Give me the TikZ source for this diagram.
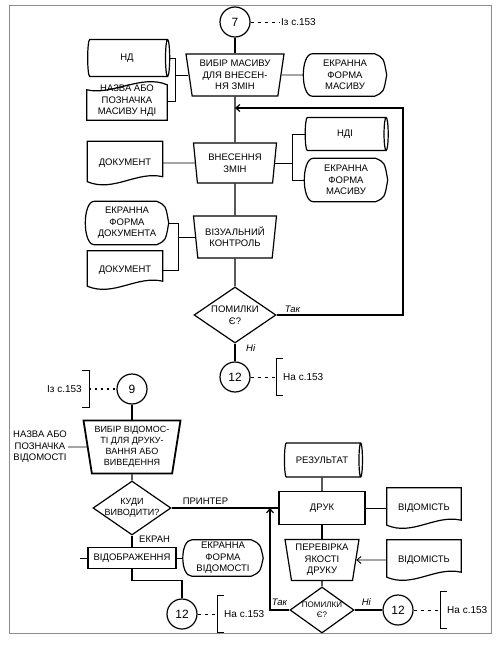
\documentclass[tikz,border=0pt]{standalone}
\usepackage{fontspec}
\setmainfont{Liberation Sans}
\usetikzlibrary{shapes.geometric,arrows.meta}

\tikzset{
  every node/.style={font=\fontsize{9.5}{11.5}\selectfont, align=center, inner sep=1pt},
  shapeline/.style={line width=1.2pt},
  flow/.style={line width=1.2pt},
  sideline/.style={line width=0.9pt},
  refline/.style={line width=0.8pt, dash pattern=on 3pt off 4pt},
  dotline/.style={line width=2pt, dash pattern=on 2pt off 4pt},
  outerframe/.style={draw=black!45, line width=0.8pt},
  conn/.style={circle, draw, shapeline, minimum size=30pt, inner sep=0pt, font=\fontsize{12}{14}\selectfont},
  manop/.style={trapezium, draw, shapeline, shape border rotate=180,
    trapezium left angle=79, trapezium right angle=79, trapezium stretches body,
    minimum width=83pt, minimum height=40pt},
  proc/.style={rectangle, draw, shapeline},
  decide/.style={diamond, draw, shapeline, aspect=1.45, inner xsep=-3pt, inner ysep=-2pt},
  store/.style={cylinder, draw, shapeline, shape aspect=0.4},
  docu/.style={append after command={\pgfextra{\draw[shapeline]
    (\tikzlastnode.north west) -- (\tikzlastnode.north east) -- ([yshift=8pt]\tikzlastnode.south east)
    .. controls ([xshift=-26pt,yshift=14pt]\tikzlastnode.south east) and ([xshift=26pt,yshift=-8pt]\tikzlastnode.south west)
    .. ([yshift=3pt]\tikzlastnode.south west) -- cycle;}}},
  docup/.style={append after command={\pgfextra{\draw[shapeline]
    (\tikzlastnode.south east) -- (\tikzlastnode.south west) -- ([yshift=-8pt]\tikzlastnode.north west)
    .. controls ([xshift=26pt,yshift=-14pt]\tikzlastnode.north west) and ([xshift=-26pt,yshift=8pt]\tikzlastnode.north east)
    .. ([yshift=-3pt]\tikzlastnode.north east) -- cycle;}}},
  scrn/.style={append after command={\pgfextra{\draw[shapeline]
    ([xshift=9pt]\tikzlastnode.north west) -- ([xshift=-12pt]\tikzlastnode.north east)
    .. controls ([xshift=-3pt,yshift=-4pt]\tikzlastnode.north east) .. (\tikzlastnode.east)
    .. controls ([xshift=-3pt,yshift=4pt]\tikzlastnode.south east) .. ([xshift=-12pt]\tikzlastnode.south east)
    -- ([xshift=9pt]\tikzlastnode.south west)
    .. controls ([xshift=-3pt]\tikzlastnode.south west) and ([xshift=-3pt]\tikzlastnode.north west)
    .. ([xshift=9pt]\tikzlastnode.north west) -- cycle;}}},
  pageref/.style={font=\fontsize{10}{12}\selectfont},
  toref/.style={pageref, anchor=west, minimum height=36pt, inner xsep=7pt,
    append after command={\pgfextra{\draw[sideline]
    ([xshift=7pt]\tikzlastnode.north west) -| (\tikzlastnode.south west) -- ++(7pt,0pt);}}},
  fromref/.style={pageref, anchor=east, minimum height=36pt, inner xsep=7pt,
    append after command={\pgfextra{\draw[sideline]
    ([xshift=-7pt]\tikzlastnode.north east) -| (\tikzlastnode.south east) -- ++(-7pt,0pt);}}},
  yesno/.style={font=\fontsize{9.5}{11.5}\itshape}
}

\begin{document}
\begin{tikzpicture}[x=1pt, y=-1pt, >={Straight Barb[length=4pt,width=7pt]}]
\useasboundingbox (0,0) rectangle (501,647);
\draw[outerframe] (9,5) rectangle (491,633);

\node[conn] (c7) at (235,22) {7};
\node[pageref, anchor=west] (from7) at (280,22) {Із с.153};
\node[manop, minimum width=98pt, minimum height=42pt] (pick) at (235,75) {ВИБІР МАСИВУ\\ДЛЯ ВНЕСЕН-\\НЯ ЗМІН};
\node[store, minimum width=37pt, minimum height=82pt] (nd) at (127,58) {НД};
\node[docup, minimum width=80pt, minimum height=38pt] (ndname) at (127,101) {НАЗВА АБО\\ПОЗНАЧКА\\МАСИВУ НДІ};
\node[scrn, minimum width=83pt, minimum height=42pt] (scr1) at (345,75) {ЕКРАННА\\ФОРМА\\МАСИВУ};

\node[manop] (edit) at (235,163) {ВНЕСЕННЯ\\ЗМІН};
\node[docu, minimum width=75pt, minimum height=43pt] (doc1) at (125,163) {ДОКУМЕНТ};
\node[store, minimum width=33pt, minimum height=83pt] (ndi) at (345,134) {НДІ};
\node[scrn, minimum width=83pt, minimum height=43pt] (scr2) at (346,180) {ЕКРАННА\\ФОРМА\\МАСИВУ};

\node[manop, minimum height=42pt] (check) at (235,237) {ВІЗУАЛЬНИЙ\\КОНТРОЛЬ};
\node[scrn, minimum width=83pt, minimum height=43pt] (scr3) at (127,223) {ЕКРАННА\\ФОРМА\\ДОКУМЕНТА};
\node[docu, minimum width=75pt, minimum height=38pt] (doc2) at (125,270) {ДОКУМЕНТ};

\node[decide, minimum width=82pt, minimum height=56pt] (err1) at (235,315) {ПОМИЛКИ\\Є?};
\node[yesno, anchor=south west] (yes1) at ([xshift=7pt,yshift=1pt]err1.east) {Так};
\node[yesno, anchor=north west] (no1) at ([xshift=10pt,yshift=0pt]err1.south) {Ні};
\node[conn] (c12a) at (235,377) {12};
\node[toref] (to12a) at (276,377) {На с.153};
\coordinate (loopR) at (403,108);

\draw[flow] (c7) -- (pick);
\draw[flow] (pick) -- (edit);
\draw[flow] (edit) -- (check);
\draw[flow] (check) -- (err1);
\draw[flow] (err1) -- (c12a);
\draw[flow,->] (err1.east) -| (loopR) -- (loopR -| pick.south);
\draw[refline] (c7) -- (from7);
\draw[refline] (c12a) -- (to12a);
\draw[sideline] (pick) -- (scr1);
\draw[sideline] (pick.west) -- ++(-13,0) coordinate (jpick);
\draw[sideline] (nd.east) -| (jpick) |- (ndname.east);
\draw[sideline] (doc1) -- (edit);
\draw[sideline] (edit.east) -- ++(17,0) coordinate (jedit);
\draw[sideline] (ndi.west) -| (jedit) |- (scr2.west);
\draw[sideline] (check.west) -- ++(-17,0) coordinate (jcheck);
\draw[sideline] (scr3.east) -| (jcheck) |- (doc2.east);

\node[conn] (c9) at (132,389) {9};
\node[fromref] (from9) at (89,389) {Із с.153};
\node[manop, line width=1.8pt, minimum width=97pt, minimum height=53pt, font=\fontsize{9}{11}\selectfont] (sel) at (132,447) {ВИБІР ВІДОМОС-\\ТІ ДЛЯ ДРУКУ-\\ВАННЯ АБО\\ВИВЕДЕННЯ};
\node (selname) at (40,447) {НАЗВА АБО\\ПОЗНАЧКА\\ВІДОМОСТІ};
\node[decide, minimum width=78pt, minimum height=54pt, font=\fontsize{9}{11}\selectfont] (where) at (132,508) {КУДИ\\ВИВОДИТИ?};
\node[proc, minimum width=88pt, minimum height=21pt] (show) at (132,558) {ВІДОБРАЖЕННЯ};
\node[anchor=south west] (prnlbl) at ([xshift=10pt,yshift=2pt]where.east) {ПРИНТЕР};
\node[anchor=south west] (scrlbl) at ([xshift=6pt,yshift=3pt]show.north) {ЕКРАН};
\node[scrn, minimum width=80pt, minimum height=36pt] (scr4) at (223,558) {ЕКРАННА\\ФОРМА\\ВІДОМОСТІ};
\coordinate (showL) at (80,558);
\node[conn] (c12b) at (182,614) {12};
\node[toref] (to12b) at (217,614) {На с.153};

\node[store, minimum width=34pt, minimum height=78pt] (res) at (322,460) {РЕЗУЛЬТАТ};
\node[proc, minimum width=86pt, minimum height=33pt] (prn) at (322,508) {ДРУК};
\node[docu, minimum width=74pt, minimum height=40pt] (out1) at (424,508) {ВІДОМІСТЬ};
\node[manop, minimum width=74pt, minimum height=41pt] (qual) at (322,560) {ПЕРЕВІРКА\\ЯКОСТІ\\ДРУКУ};
\node[docu, minimum width=74pt, minimum height=40pt] (out2) at (424,560) {ВІДОМІСТЬ};
\node[decide, minimum width=64pt, minimum height=46pt, font=\fontsize{8}{10}\selectfont] (err2) at (322,610) {ПОМИЛКИ\\Є?};
\node[yesno, anchor=south east] (yes2) at ([xshift=-1pt,yshift=3pt]err2.west) {Так};
\node[yesno, anchor=south west] (no2) at ([xshift=6pt,yshift=3pt]err2.east) {Ні};
\node[conn] (c12c) at (398,610) {12};
\node[toref] (to12c) at (440,610) {На с.153};
\coordinate (backX) at (270,0);

\draw[dotline] (from9) -- (c9);
\draw[flow] (c9) -- (sel);
\draw[flow] (sel) -- (where);
\draw[sideline] (selname) -- (sel);
\draw[flow] (where) -- (show);
\draw[flow] (where) -- (prn);
\draw[sideline] (show) -- (scr4);
\draw[sideline] (show) -- (showL);
\draw[flow] (show.south) -- ++(0,11) -| (c12b.north);
\draw[refline] (c12b) -- (to12b);
\draw[flow] (res) -- (prn);
\draw[flow] (prn) -- (qual);
\draw[flow] (qual) -- (err2);
\draw[sideline] (prn) -- (out1);
\draw[sideline,->] (out2) -- (qual);
\draw[flow] (err2) -- (c12c);
\draw[refline] (c12c) -- (to12c);
\draw[flow,->] (err2.west) -| (backX |- prn.west);
\end{tikzpicture}
\end{document}
